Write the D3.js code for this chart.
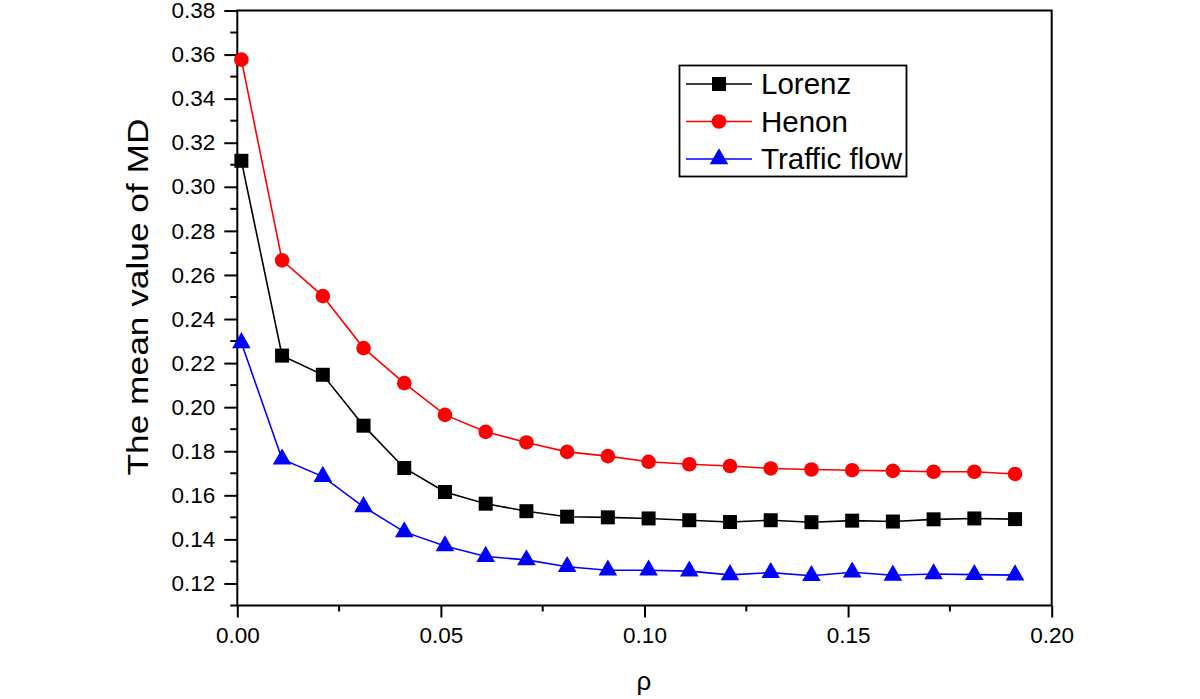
<!DOCTYPE html>
<html>
<head>
<meta charset="utf-8">
<script src="https://cdn.jsdelivr.net/npm/d3@7"></script>
<style>
html,body{margin:0;padding:0;background:#fff;}
svg{display:block;font-family:"Liberation Sans",Arial,sans-serif;}
</style>
</head>
<body>
<svg id="chart" width="1200" height="699"></svg>
<script>
const rho = [0.001,0.011,0.021,0.031,0.041,0.051,0.061,0.071,0.081,0.091,0.101,0.111,0.121,0.131,0.141,0.151,0.161,0.171,0.181,0.191];
const lorenz = [0.3118,0.2234,0.2147,0.1916,0.1724,0.1615,0.1562,0.1528,0.1503,0.1500,0.1495,0.1487,0.1479,0.1487,0.1478,0.1485,0.1481,0.1491,0.1495,0.1492];
const henon = [0.3577,0.2666,0.2504,0.2268,0.2109,0.1965,0.1888,0.1840,0.1797,0.1778,0.1752,0.1741,0.1733,0.1722,0.1717,0.1714,0.1711,0.1707,0.1707,0.1697];
const traffic = [0.2292,0.1764,0.1685,0.1548,0.1434,0.1370,0.1322,0.1307,0.1276,0.1260,0.1260,0.1256,0.1239,0.1249,0.1235,0.1251,0.1237,0.1243,0.1240,0.1238];
const seriesNames = ["Lorenz","Henon","Traffic flow"];
const seriesColors = ["#000000","#ff0000","#0000ff"];
const xTicks = [0.00,0.05,0.10,0.15,0.20];
const yTicks = [0.12,0.14,0.16,0.18,0.20,0.22,0.24,0.26,0.28,0.30,0.32,0.34,0.36,0.38];
const xTitle = "ρ";
const yTitle = "The mean value of MD";

const svg = d3.select("#chart");
const L = 237.3, R = 1051.7, T = 10.5, B = 605.5;
const x = d3.scaleLinear().domain([0,0.2]).range([L,R]);
const y = d3.scaleLinear().domain([0.11,0.38]).range([B,T]);

const series = [
  {name:seriesNames[0], color:seriesColors[0], vals:lorenz, sym:d3.symbolSquare, size:196},
  {name:seriesNames[1], color:seriesColors[1], vals:henon, sym:d3.symbolCircle, size:Math.PI*7.3*7.3},
  {name:seriesNames[2], color:seriesColors[2], vals:traffic, sym:d3.symbolTriangle, size:150}
];

// frame
svg.append("rect").attr("x",L).attr("y",T).attr("width",R-L).attr("height",B-T)
  .attr("fill","none").attr("stroke","#000").attr("stroke-width",2);

// y axis
const yMinor = d3.range(11,38,2).map(v=>v/100);
const yAx = svg.append("g").attr("transform",`translate(${L},0)`);
yAx.call(d3.axisLeft(y).tickValues(yTicks).tickFormat(d3.format(".2f")).tickSize(13).tickPadding(9))
  .call(g=>g.select(".domain").remove());
yAx.selectAll("line").attr("stroke","#000").attr("stroke-width",2);
yAx.selectAll("text").attr("font-size",22.5).attr("fill","#000").attr("font-family","Liberation Sans, Arial, sans-serif");
yAx.selectAll(".minor").data(yMinor).enter().append("line").attr("class","minor")
  .attr("x1",-7).attr("x2",0).attr("y1",d=>y(d)).attr("y2",d=>y(d)).attr("stroke","#000").attr("stroke-width",2);

// x axis
const xMinor = [0.025,0.075,0.125,0.175];
const xAx = svg.append("g").attr("transform",`translate(0,${B})`);
xAx.call(d3.axisBottom(x).tickValues(xTicks).tickFormat(d3.format(".2f")).tickSize(12).tickPadding(10))
  .call(g=>g.select(".domain").remove());
xAx.selectAll("line").attr("stroke","#000").attr("stroke-width",2);
xAx.selectAll("text").attr("font-size",22.5).attr("fill","#000").attr("font-family","Liberation Sans, Arial, sans-serif");
xAx.selectAll(".minor").data(xMinor).enter().append("line").attr("class","minor")
  .attr("y1",0).attr("y2",6).attr("x1",d=>x(d)).attr("x2",d=>x(d)).attr("stroke","#000").attr("stroke-width",2);

// titles
svg.append("text").attr("x",644).attr("y",690).attr("text-anchor","middle")
  .attr("font-size",26).attr("fill","#000").text(xTitle);
svg.append("text").attr("transform","translate(148,297) rotate(-90)").attr("text-anchor","middle")
  .attr("font-size",30).attr("fill","#000").attr("textLength",357).attr("lengthAdjust","spacingAndGlyphs").text(yTitle);

// series
series.forEach(s=>{
  const pts = rho.map((r,i)=>[r,s.vals[i]]);
  svg.append("path").datum(pts)
    .attr("d",d3.line().x(d=>x(d[0])).y(d=>y(d[1])))
    .attr("fill","none").attr("stroke",s.color).attr("stroke-width",1.6);
  svg.append("g").selectAll("path").data(pts).enter().append("path")
    .attr("transform",d=>`translate(${x(d[0])},${y(d[1])})`)
    .attr("d",d3.symbol().type(s.sym).size(s.size)).attr("fill",s.color);
});

// legend
const lg = svg.append("g");
lg.append("rect").attr("x",679.5).attr("y",65.5).attr("width",227).attr("height",111)
  .attr("fill","#fff").attr("stroke","#000").attr("stroke-width",1.8);
series.forEach((s,i)=>{
  const cy = 84 + i*37.5;
  lg.append("line").attr("x1",686).attr("x2",752).attr("y1",cy).attr("y2",cy)
    .attr("stroke",s.color).attr("stroke-width",1.6);
  lg.append("path").attr("transform",`translate(719,${cy})`)
    .attr("d",d3.symbol().type(s.sym).size(s.size)).attr("fill",s.color);
  lg.append("text").attr("x",761).attr("y",cy+10).attr("font-size",29.5).attr("fill","#000").text(s.name);
});
</script>
</body>
</html>
